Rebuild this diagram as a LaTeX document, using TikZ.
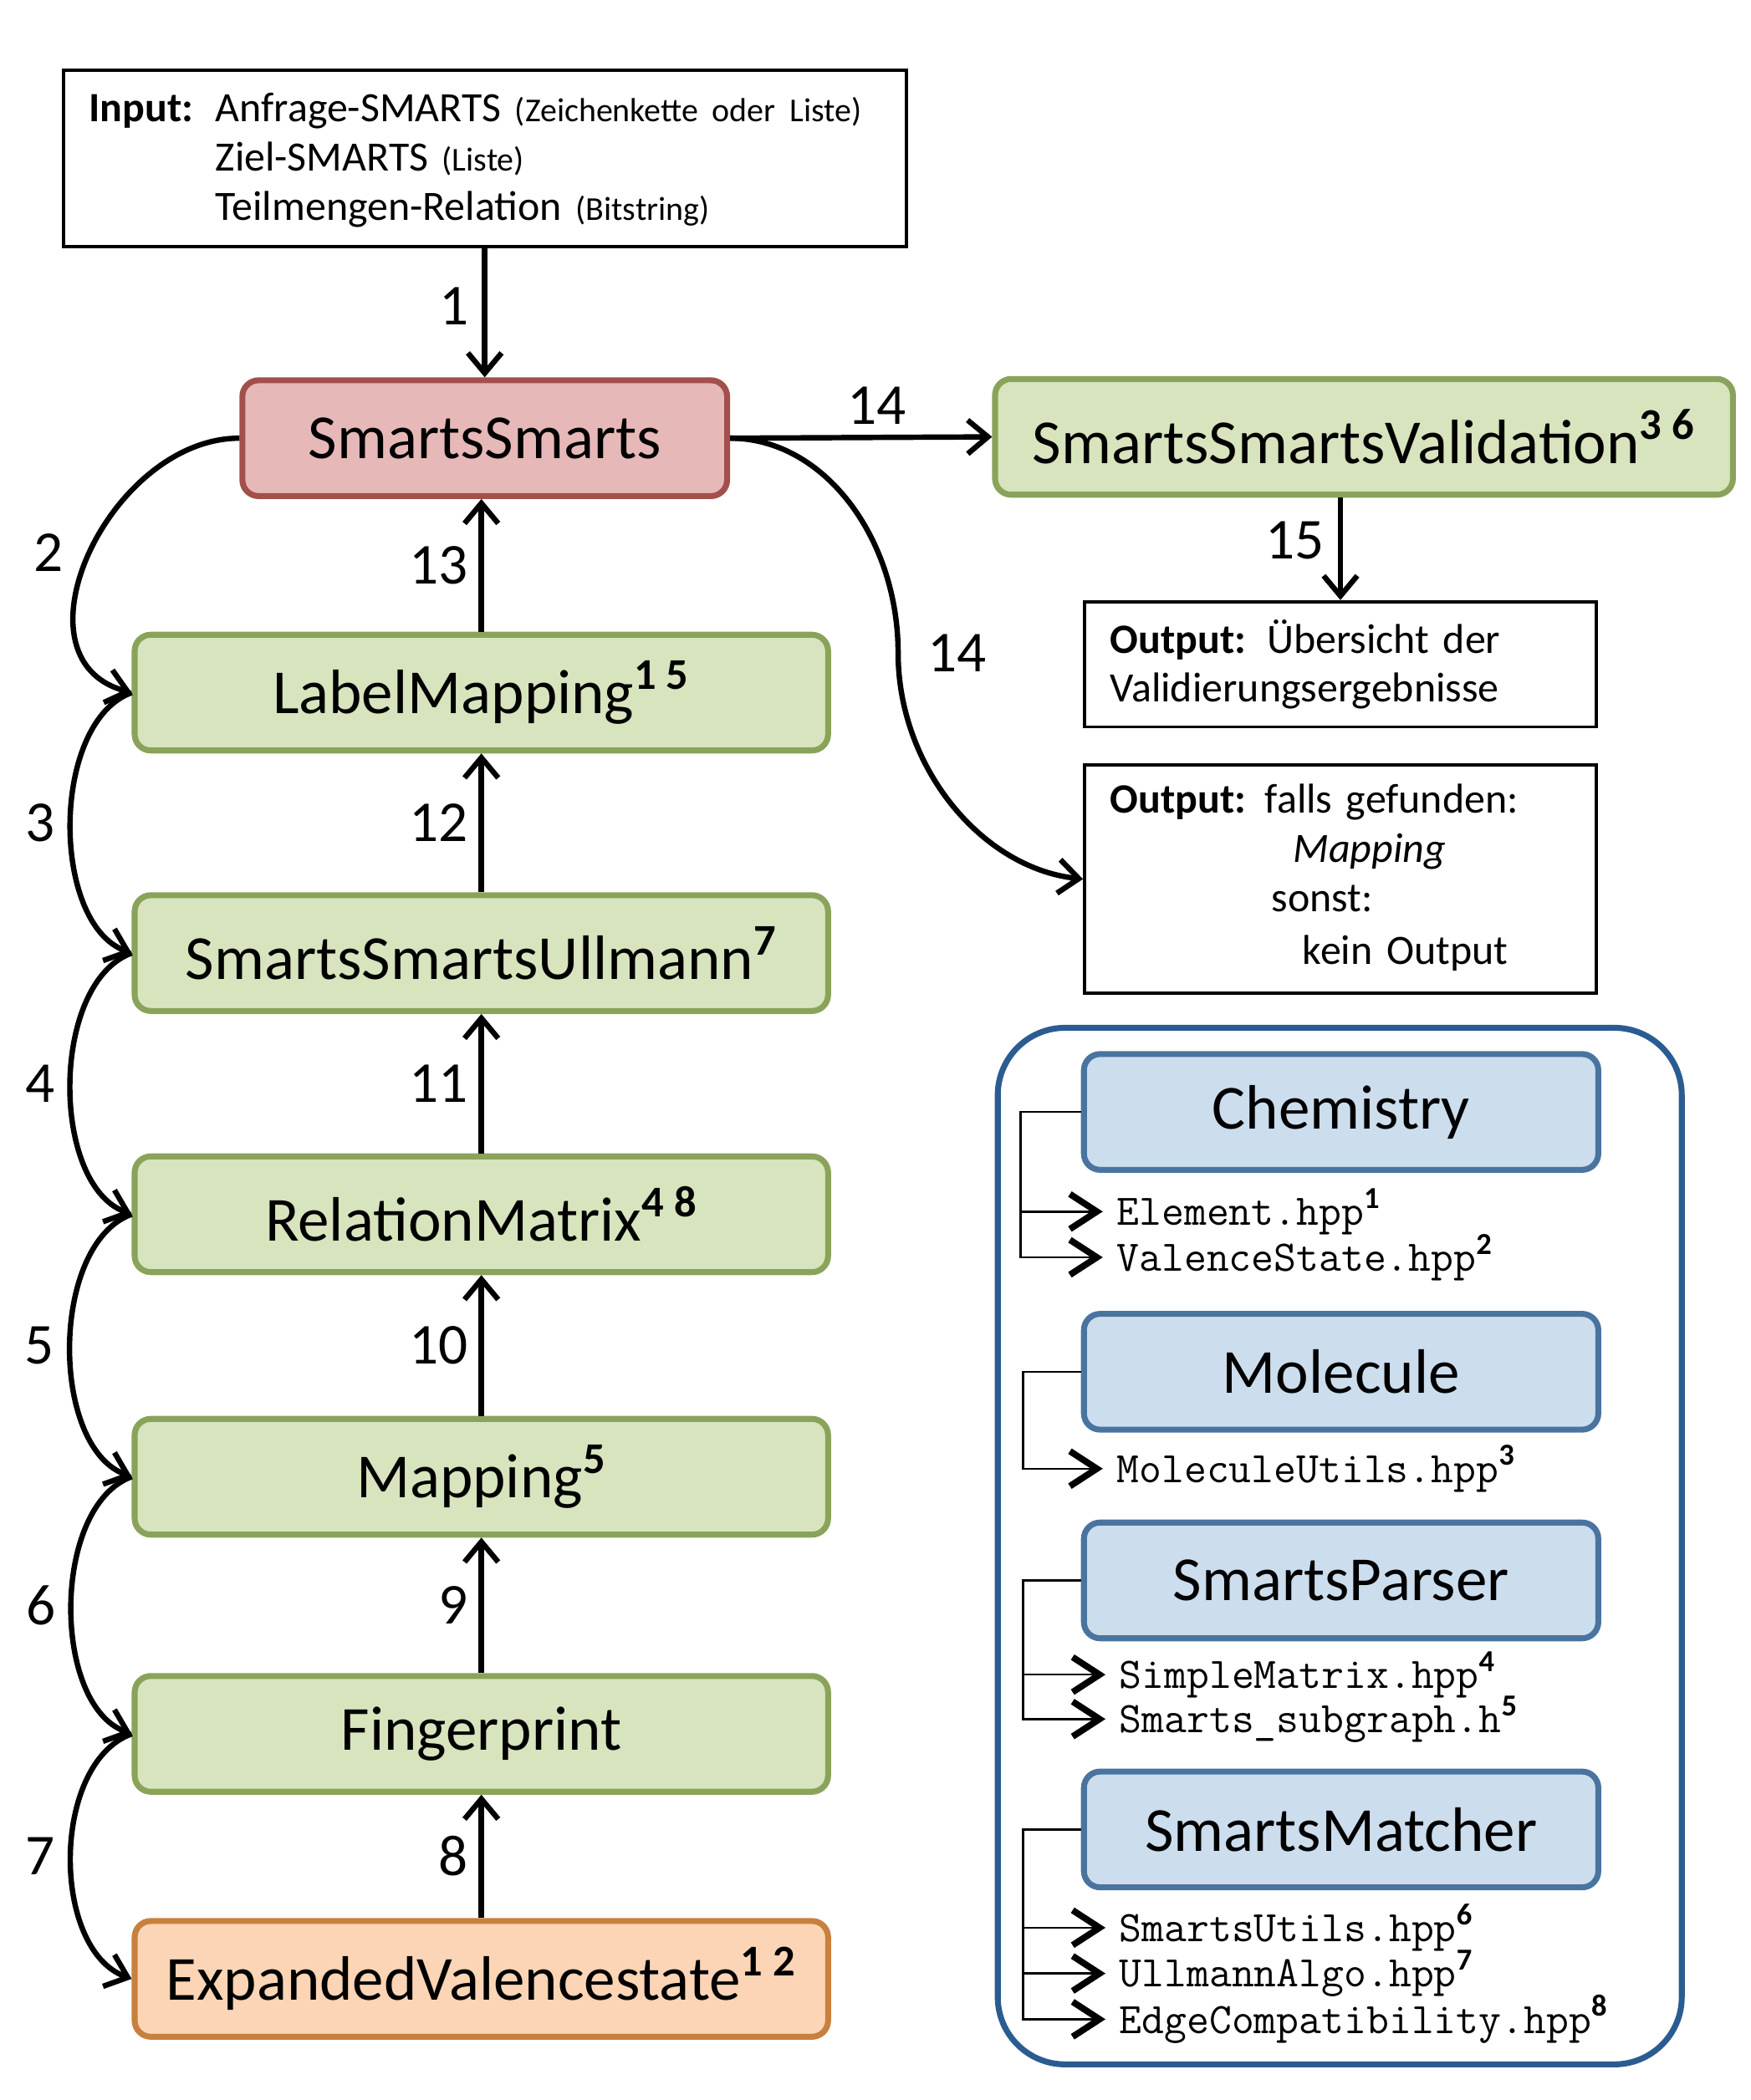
\documentclass[tikz,border=0pt]{standalone}
\usepackage{fontspec}
\setmainfont{Carlito}
\usepackage{tikz}
\usetikzlibrary{arrows.meta}

\definecolor{smartsFill}{HTML}{E6B9B8}
\definecolor{smartsLine}{HTML}{A34F4B}
\definecolor{stepFill}{HTML}{D7E4BD}
\definecolor{stepLine}{HTML}{8AA35A}
\definecolor{baseFill}{HTML}{FBD5B5}
\definecolor{baseLine}{HTML}{C8803F}
\definecolor{modFill}{HTML}{CCDDED}
\definecolor{modLine}{HTML}{4A74A0}
\definecolor{frameLine}{HTML}{2B5C91}

\newcommand{\sups}[1]{\textsuperscript{\rmfamily\bfseries #1}}

\tikzset{
  box/.style={rounded corners=6pt, line width=2.2pt, minimum height=43pt, inner sep=0pt,
    font=\fontsize{23.3}{28}\selectfont},
  smartsbox/.style={box, draw=smartsLine, fill=smartsFill, minimum width=180pt},
  stepbox/.style={box, draw=stepLine, fill=stepFill, minimum width=257.5pt},
  basebox/.style={box, draw=baseLine, fill=baseFill, minimum width=257.5pt},
  modbox/.style={box, draw=modLine, fill=modFill, minimum width=191pt},
  iobox/.style={draw, line width=1.2pt, inner xsep=9.5pt, align=left,
    font=\fontsize{15.5}{18.25}\selectfont},
  file/.style={anchor=west, inner xsep=5pt, inner ysep=2pt, font=\ttfamily\fontsize{16.2}{18}\selectfont},
  flow/.style={line width=2pt, -{Straight Barb[length=7.5pt,width=12.5pt]}},
  fileflow/.style={line width=0.8pt, -{Straight Barb[length=10pt,width=13pt,line width=2.4pt]}},
  num/.style={inner sep=1pt, font=\fontsize{21.5}{24}\selectfont},
}

\begin{document}
\begin{tikzpicture}[x=0.5pt,y=0.5pt]
\useasboundingbox (0,0) rectangle (1300,-1560);

% input and output boxes
\node[iobox, minimum width=313pt, minimum height=65.5pt, text width=294pt] (input) at (360,-117.5)
  {\begin{tabular}{@{}p{47pt}@{}l@{}}
   \rule{0pt}{15pt}\textbf{Input:} & Anfrage-SMARTS {\fontsize{12.4}{14}\selectfont(Zeichenkette oder Liste)}\\
   & Ziel-SMARTS {\fontsize{12.4}{14}\selectfont(Liste)}\\
   & Teilmengen-Relation {\fontsize{12.4}{14}\selectfont(Bitstring)}
   \end{tabular}};
\node[iobox, minimum height=46.5pt, text width=171pt] (outvalid) at (995.5,-493.5)
  {\textbf{Output:} Übersicht der\\Validierungsergebnisse};
\node[iobox, minimum height=85pt, text width=171pt] (outmap) at (995.5,-653)
  {\begin{tabular}{@{}p{57.5pt}@{}l@{}}
   \textbf{Output:} & falls gefunden:\\
   & \hspace*{10.5pt}\textit{Mapping}\\
   & \hspace*{2.5pt}sonst:\\[1.5pt]
   & \hspace*{14pt}kein Output
   \end{tabular}};

% main classes
\node[smartsbox] (smarts) at (360,-325.5) {SmartsSmarts};
\node[stepbox, minimum width=274pt] (valid) at (1013,-324.5) {SmartsSmartsValidation\sups{3 6}};
\node[stepbox] (lm) at (357.5,-514.5) {LabelMapping\sups{1 5}};
\node[stepbox] (ullmann) at (357.5,-708) {SmartsSmartsUllmann\sups{7}};
\node[stepbox] (relmat) at (357.5,-902) {RelationMatrix\sups{4 8}};
\node[stepbox] (mapping) at (357.5,-1097) {Mapping\sups{5}};
\node[stepbox] (fprint) at (357.5,-1288) {Fingerprint};
\node[basebox] (expval) at (357.5,-1470) {ExpandedValencestate\sups{1 2}};

% flow
\draw[flow] (input.south) -- node[num, left=4pt, pos=0.45] {1} (smarts.north);
\draw[flow] (smarts.east) -- node[num, above=3pt, pos=0.56] {14} (valid.west);
\draw[flow] (outvalid.north |- valid.south) -- node[num, left=4pt, pos=0.42] {15} (outvalid.north);
\draw[flow] (smarts.east) .. controls +(70,0) and +(0,85) .. (667,-485) node[num, right=9pt] {14}
  .. controls +(0,-85) and +(-75,8) .. (outmap.west);
\draw[flow] (smarts.west) to[out=180,in=165,looseness=1.2] node[num, left=8pt] {2} (lm.west);
\draw[flow] (lm.west) to[out=200,in=160,looseness=0.85] node[num, left=4pt] {3} (ullmann.west);
\draw[flow] (ullmann.west) to[out=200,in=160,looseness=0.85] node[num, left=4pt] {4} (relmat.west);
\draw[flow] (relmat.west) to[out=200,in=160,looseness=0.85] node[num, left=4pt] {5} (mapping.west);
\draw[flow] (mapping.west) to[out=200,in=160,looseness=0.85] node[num, left=4pt] {6} (fprint.west);
\draw[flow] (fprint.west) to[out=200,in=160,looseness=0.9] node[num, left=4pt] {7} (expval.west);
\draw[flow] (expval.north) -- node[num, left=3pt] {8} (fprint.south);
\draw[flow] (fprint.north) -- node[num, left=3pt] {9} (mapping.south);
\draw[flow] (mapping.north) -- node[num, left=3pt] {10} (relmat.south);
\draw[flow] (relmat.north) -- node[num, left=3pt] {11} (ullmann.south);
\draw[flow] (ullmann.north) -- node[num, left=3pt] {12} (lm.south);
\draw[flow] (lm.north) -- node[num, left=3pt] {13} (lm.north |- smarts.south);

% modules
\node[draw=frameLine, line width=2.2pt, rounded corners=25pt, minimum width=254pt, minimum height=385pt] (frame) at (995,-1148.5) {};
\node[modbox] (chem) at (996,-826) {Chemistry};
\node[modbox] (mol) at (996,-1019) {Molecule};
\node[modbox] (parser) at (996,-1174) {SmartsParser};
\node[modbox] (matcher) at (996,-1359) {SmartsMatcher};

\node[file] (element) at (819,-900) {Element.hpp\sups{1}};
\node[file] (valence) at (819,-934) {ValenceState.hpp\sups{2}};
\node[file] (molutils) at (819,-1091) {MoleculeUtils.hpp\sups{3}};
\node[file] (simplematrix) at (821,-1244) {SimpleMatrix.hpp\sups{4}};
\node[file] (subgraph) at (821,-1277) {Smarts\_subgraph.h\sups{5}};
\node[file] (smartsutils) at (821,-1432) {SmartsUtils.hpp\sups{6}};
\node[file] (ullalgo) at (821,-1466) {UllmannAlgo.hpp\sups{7}};
\node[file] (edgecomp) at (821,-1500) {EdgeCompatibility.hpp\sups{8}};

\draw[fileflow] (chem.west) -- ++(-45,0) |- (valence.west);
\draw[fileflow] (chem.west) ++(-45,0) |- (element.west);
\draw[fileflow] (mol.west) -- ++(-43,0) |- (molutils.west);
\draw[fileflow] (parser.west) -- ++(-43,0) |- (subgraph.west);
\draw[fileflow] (parser.west) ++(-43,0) |- (simplematrix.west);
\draw[fileflow] (matcher.west) -- ++(-43,0) |- (edgecomp.west);
\draw[fileflow] (matcher.west) ++(-43,0) |- (smartsutils.west);
\draw[fileflow] (matcher.west) ++(-43,0) |- (ullalgo.west);
\end{tikzpicture}
\end{document}
